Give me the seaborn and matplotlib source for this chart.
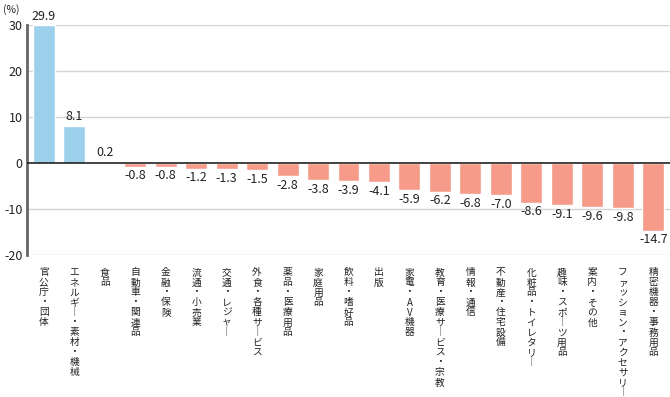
import matplotlib
matplotlib.use("Agg")
import matplotlib.pyplot as plt
import seaborn as sns
import pandas as pd

categories = [
    "官公庁・団体", "エネルギー・素材・機械", "食品", "自動車・関連品", "金融・保険",
    "流通・小売業", "交通・レジャー", "外食・各種サービス", "薬品・医療用品", "家庭用品",
    "飲料・嗜好品", "出版", "家電・AV機器", "教育・医療サービス・宗教", "情報・通信",
    "不動産・住宅設備", "化粧品・トイレタリー", "趣味・スポーツ用品", "案内・その他",
    "ファッション・アクセサリー", "精密機器・事務用品",
]
values = [29.9, 8.1, 0.2, -0.8, -0.8, -1.2, -1.3, -1.5, -2.8, -3.8,
          -3.9, -4.1, -5.9, -6.2, -6.8, -7.0, -8.6, -9.1, -9.6, -9.8, -14.7]
yticks = [-20, -10, 0, 10, 20, 30]

POS = "#9dd0eb"
NEG = "#f69a8a"

sns.set_style("white")
plt.rcParams["font.family"] = ["Noto Sans CJK JP", "DejaVu Sans"]
plt.rcParams["axes.unicode_minus"] = False

df = pd.DataFrame({"cat": categories, "val": values})
colors = [POS if v >= 0 else NEG for v in values]

fig = plt.figure(figsize=(6.7, 3.97), dpi=100)
ax = fig.add_axes([27 / 670, 1 - 255 / 397, 1 - 27 / 670, 230 / 397])

sns.barplot(data=df, x="cat", y="val", hue="cat", palette=colors, legend=False,
            width=0.72, saturation=1, ax=ax)

for cont, v in zip(ax.containers, values):
    ax.bar_label(cont, labels=[f"{v:.1f}"], padding=2, fontsize=9, color="#222222")

ax.set_ylim(-20, 30)
ax.set_xlim(-0.55, len(categories) - 0.45)
ax.set_yticks(yticks)
ax.set_yticklabels([str(t) for t in yticks], fontsize=9, color="#222222")
for t in yticks:
    if t != 0:
        ax.axhline(t, color="#d4d4d4", lw=1, zorder=0)
ax.axhline(0, color="#222222", lw=1.2, zorder=3)

# vertical (stacked) labels, long vowel mark drawn upright
stacked = ["\n".join(c.replace("ー", "｜")) for c in categories]
ax.set_xticks(range(len(categories)))
ax.set_xticklabels(stacked, fontsize=7.0, linespacing=1.0, va="top", color="#222222")
ax.tick_params(axis="x", length=0, pad=9)
ax.tick_params(axis="y", length=0, pad=3)
ax.set_xlabel("")
ax.set_ylabel("")

for s in ["top", "right", "bottom"]:
    ax.spines[s].set_visible(False)
ax.spines["left"].set_color("#666666")
ax.spines["left"].set_linewidth(2)

fig.text(0.004, 0.99, "(%)", fontsize=7.5, va="top", ha="left", color="#222222")

fig.savefig("out.png", dpi=100)
